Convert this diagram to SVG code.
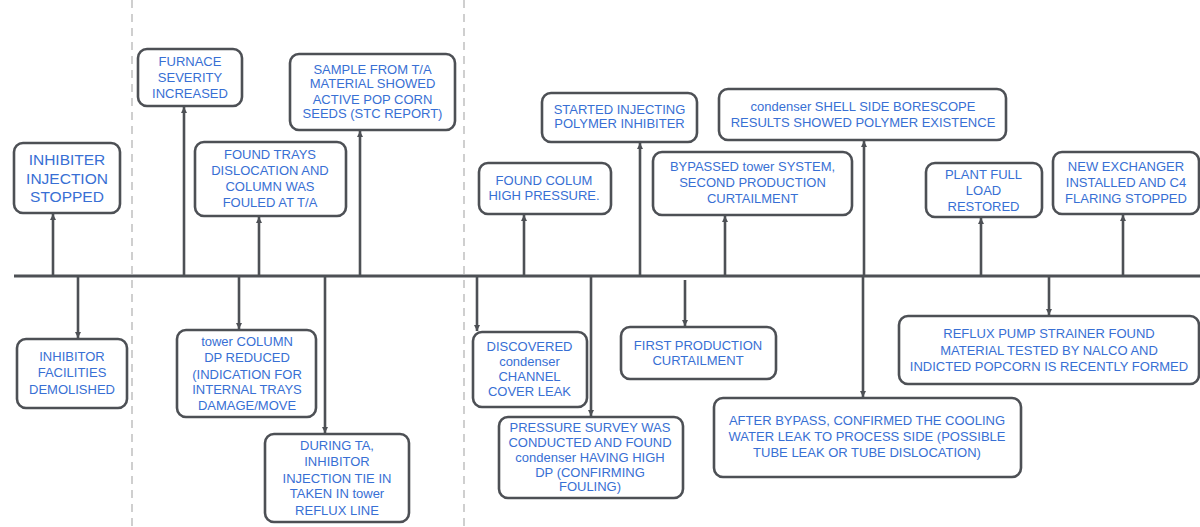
<svg xmlns="http://www.w3.org/2000/svg" width="1200" height="527" viewBox="0 0 1200 527">
<defs>
<marker id="ah" markerUnits="userSpaceOnUse" markerWidth="8" markerHeight="8" viewBox="0 0 8 8" refX="6" refY="4" orient="auto">
<path d="M0,1 L6,4 L0,7 Z" fill="#4d5055"/>
</marker>
<style>
.box{fill:#ffffff;stroke:#4d5055;stroke-width:2.6}
.t{font-family:"Liberation Sans",Arial,sans-serif;font-size:13px;fill:#386fd4;text-anchor:middle}
.big{font-size:15.5px}
.c{stroke:#4d5055;stroke-width:2.6;fill:none;marker-end:url(#ah)}
.dash{stroke:#c4c4c4;stroke-width:1.6;stroke-dasharray:8 6}
</style>
</defs>
<rect width="1200" height="527" fill="#ffffff"/>
<line class="dash" x1="132" y1="0" x2="132" y2="527"/>
<line class="dash" x1="464" y1="0" x2="464" y2="527"/>
<g id="connectors">
<line x1="14" y1="276" x2="1200" y2="276" stroke="#4d5055" stroke-width="3"/>
<line class="c" x1="53" y1="276" x2="53" y2="214"/>
<line class="c" x1="184" y1="276" x2="184" y2="107"/>
<line class="c" x1="259" y1="276" x2="259" y2="217"/>
<line class="c" x1="360" y1="276" x2="360" y2="131"/>
<line class="c" x1="78" y1="276" x2="78" y2="338"/>
<line class="c" x1="239" y1="276" x2="239" y2="329"/>
<line class="c" x1="325" y1="276" x2="325" y2="433"/>
<line class="c" x1="524" y1="276" x2="524" y2="215"/>
<line class="c" x1="640" y1="276" x2="640" y2="143"/>
<line class="c" x1="725" y1="276" x2="725" y2="216"/>
<line class="c" x1="864" y1="276" x2="864" y2="141"/>
<line class="c" x1="981" y1="276" x2="981" y2="218"/>
<line class="c" x1="1123" y1="276" x2="1123" y2="215"/>
<line class="c" x1="477" y1="276" x2="477" y2="331"/>
<line class="c" x1="591" y1="276" x2="591" y2="416"/>
<line class="c" x1="685" y1="280" x2="685" y2="326"/>
<line class="c" x1="863" y1="276" x2="863" y2="397"/>
<line class="c" x1="1049" y1="276" x2="1049" y2="315"/>
</g>
<g id="n1"><rect class="box" x="14" y="143" width="106" height="70" rx="9"/>
<text class="t big" x="67"><tspan x="67" y="164.6">INHIBITER</tspan><tspan x="67" y="184">INJECTION</tspan><tspan x="67" y="202.3">STOPPED</tspan></text></g>
<g id="n2"><rect class="box" x="138" y="49" width="104" height="57" rx="9"/>
<text class="t"><tspan x="190" y="65.7">FURNACE</tspan><tspan x="190" y="82.4">SEVERITY</tspan><tspan x="190" y="98">INCREASED</tspan></text></g>
<g id="n3"><rect class="box" x="290" y="54" width="165" height="76" rx="9"/>
<text class="t"><tspan x="372.5" y="74">SAMPLE FROM T/A</tspan><tspan x="372.5" y="88.4">MATERIAL SHOWED</tspan><tspan x="372.5" y="103.7">ACTIVE POP CORN</tspan><tspan x="372.5" y="118">SEEDS (STC REPORT)</tspan></text></g>
<g id="n4"><rect class="box" x="195" y="142" width="151" height="74" rx="9"/>
<text class="t"><tspan x="270" y="158.7">FOUND TRAYS</tspan><tspan x="270" y="174.7">DISLOCATION AND</tspan><tspan x="270" y="190.7">COLUMN WAS</tspan><tspan x="270" y="206.7">FOULED AT T/A</tspan></text></g>
<g id="n5"><rect class="box" x="17" y="339" width="110" height="69" rx="9"/>
<text class="t"><tspan x="72" y="361.4">INHIBITOR</tspan><tspan x="72" y="377.4">FACILITIES</tspan><tspan x="72" y="393.7">DEMOLISHED</tspan></text></g>
<g id="n6"><rect class="box" x="177" y="330" width="139" height="87" rx="9"/>
<text class="t"><tspan x="247" y="345.7">tower COLUMN</tspan><tspan x="247" y="362.4">DP REDUCED</tspan><tspan x="247" y="378.7">(INDICATION FOR</tspan><tspan x="247" y="394">INTERNAL TRAYS</tspan><tspan x="247" y="410.4">DAMAGE/MOVE</tspan></text></g>
<g id="n7"><rect class="box" x="265" y="434" width="144" height="88" rx="9"/>
<text class="t"><tspan x="337" y="449.7">DURING TA,</tspan><tspan x="337" y="466.4">INHIBITOR</tspan><tspan x="337" y="483">INJECTION TIE IN</tspan><tspan x="337" y="498">TAKEN IN tower</tspan><tspan x="337" y="514.7">REFLUX LINE</tspan></text></g>
<g id="n8"><rect class="box" x="479" y="163" width="132" height="51" rx="9"/>
<text class="t"><tspan x="544" y="184.7">FOUND COLUM</tspan><tspan x="544" y="199.7">HIGH PRESSURE.</tspan></text></g>
<g id="n9"><rect class="box" x="542" y="93" width="155" height="49" rx="9"/>
<text class="t"><tspan x="619.5" y="113.7">STARTED INJECTING</tspan><tspan x="619.5" y="128">POLYMER INHIBITER</tspan></text></g>
<g id="n10"><rect class="box" x="653" y="152" width="199" height="63" rx="9"/>
<text class="t"><tspan x="752.5" y="171.4">BYPASSED tower SYSTEM,</tspan><tspan x="752.5" y="187.4">SECOND PRODUCTION</tspan><tspan x="752.5" y="203.4">CURTAILMENT</tspan></text></g>
<g id="n11"><rect class="box" x="719" y="89" width="287" height="51" rx="9"/>
<text class="t"><tspan x="863" y="111.4">condenser SHELL SIDE BORESCOPE</tspan><tspan x="863" y="127.4">RESULTS SHOWED POLYMER EXISTENCE</tspan></text></g>
<g id="n12"><rect class="box" x="926" y="163" width="116" height="54" rx="9"/>
<text class="t"><tspan x="983.5" y="179">PLANT FULL</tspan><tspan x="983.5" y="195.4">LOAD</tspan><tspan x="983.5" y="211.4">RESTORED</tspan></text></g>
<g id="n13"><rect class="box" x="1053" y="152" width="146" height="62" rx="9"/>
<text class="t"><tspan x="1126" y="171.4">NEW EXCHANGER</tspan><tspan x="1126" y="187.4">INSTALLED AND C4</tspan><tspan x="1126" y="203.4">FLARING STOPPED</tspan></text></g>
<g id="n14"><rect class="box" x="473" y="332" width="114" height="75" rx="9"/>
<text class="t"><tspan x="529.5" y="351.4">DISCOVERED</tspan><tspan x="529.5" y="366.4">condenser</tspan><tspan x="529.5" y="381.4">CHANNEL</tspan><tspan x="529.5" y="396.4">COVER LEAK</tspan></text></g>
<g id="n15"><rect class="box" x="499" y="417" width="184" height="81" rx="9"/>
<text class="t"><tspan x="590" y="432">PRESSURE SURVEY WAS</tspan><tspan x="590" y="446.7">CONDUCTED AND FOUND</tspan><tspan x="590" y="462">condenser HAVING HIGH</tspan><tspan x="590" y="476.7">DP (CONFIRMING</tspan><tspan x="590" y="491.4">FOULING)</tspan></text></g>
<g id="n16"><rect class="box" x="621" y="327" width="155" height="52" rx="9"/>
<text class="t"><tspan x="698" y="349.7">FIRST PRODUCTION</tspan><tspan x="698" y="365.4">CURTAILMENT</tspan></text></g>
<g id="n17"><rect class="box" x="714" y="398" width="307" height="79" rx="9"/>
<text class="t"><tspan x="867" y="424.7">AFTER BYPASS, CONFIRMED THE COOLING</tspan><tspan x="867" y="441.4">WATER LEAK TO PROCESS SIDE (POSSIBLE</tspan><tspan x="867" y="457.4">TUBE LEAK OR TUBE DISLOCATION)</tspan></text></g>
<g id="n18"><rect class="box" x="899" y="316" width="300" height="68" rx="9"/>
<text class="t"><tspan x="1049" y="338">REFLUX PUMP STRAINER FOUND</tspan><tspan x="1049" y="354.7">MATERIAL TESTED BY NALCO AND</tspan><tspan x="1049" y="371.4">INDICTED POPCORN IS RECENTLY FORMED</tspan></text></g>
</svg>
